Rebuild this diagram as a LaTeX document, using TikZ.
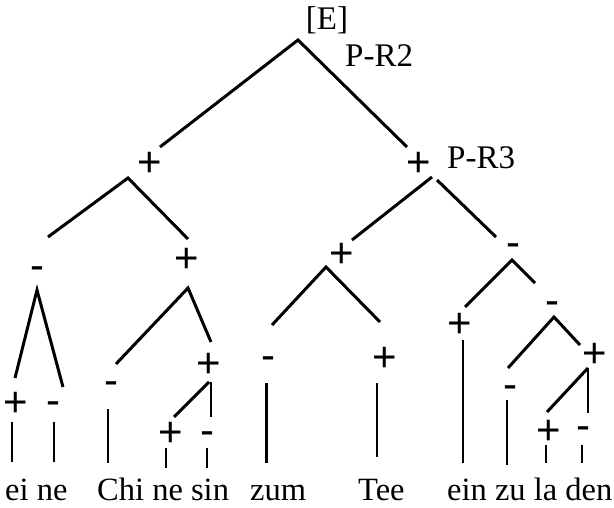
\documentclass[tikz,border=0pt]{standalone}
\usepackage{fontspec}
\setmainfont{Liberation Serif}
\newfontfamily\signfont{Liberation Sans}
\begin{document}
\begin{tikzpicture}[x=1pt,y=-1pt,
  word/.style={font=\fontsize{32.5}{36}\selectfont, anchor=base west, inner sep=0},
  lab/.style={font=\fontsize{33}{36}\selectfont, anchor=base west, inner sep=0},
  pl/.style={font=\signfont\fontsize{42}{44}\selectfont, anchor=base, inner sep=0, yshift=-14.7pt},
  mi/.style={font=\signfont\fontsize{42}{44}\selectfont, anchor=base, inner sep=0, yshift=-11.5pt},
  edge/.style={line width=3pt},
  leg/.style={line width=2.3pt},
  thinleg/.style={line width=1.6pt}]
\useasboundingbox (0,0) rectangle (614,508);

% ---- labels ----
\node[font=\fontsize{33}{36}\selectfont, anchor=base, inner sep=0] (E) at (327,30) {[E]};
\node[lab] (pr2) at (345,67) {P-R2};
\node[lab] (pr3) at (447,169) {P-R3};

% ---- sign nodes ----
\node[pl] (L) at (150,162) {+};
\node[pl] (R) at (419,162) {+};
\node[mi] (LL) at (37,268) {-};
\node[pl] (LR) at (187,258) {+};
\node[pl] (LLa) at (16,402) {+};
\node[mi] (LLb) at (53,403) {-};
\node[mi] (LRa) at (111,383) {-};
\node[pl] (LRb) at (209,363) {+};
\node[pl] (LRba) at (171,432) {+};
\node[mi] (LRbb) at (207,433) {-};
\node[pl] (RL) at (342,253) {+};
\node[mi] (RLa) at (268,358) {-};
\node[pl] (RLb) at (385,357) {+};
\node[mi] (RR) at (513,245) {-};
\node[pl] (RRa) at (460,323) {+};
\node[mi] (RRb) at (552,303) {-};
\node[mi] (RRba) at (510,387) {-};
\node[pl] (RRbb) at (595,353) {+};
\node[pl] (RRbba) at (549,430) {+};
\node[mi] (RRbbb) at (583,428) {-};

% ---- words ----
\node[word] (w1) at (5,500) {ei ne};
\node[word] (w2) at (97,500) {Chi ne sin};
\node[word] (w3) at (250,500) {zum};
\node[word] (w4) at (358,500) {Tee};
\node[word] (w5) at (447,500) {ein zu la den};

% ---- connector ends ----
\coordinate (E-ap) at (298,40);
\coordinate (L-in) at (160,147);
\coordinate (R-in) at (407,147);
\coordinate (L-ap) at (128,178);
\coordinate (LL-in) at (48,237);
\coordinate (LR-in) at (188,239);
\coordinate (R-apl) at (432,177);
\coordinate (R-apr) at (437,180);
\coordinate (RL-in) at (352,240);
\coordinate (RR-in) at (496,237);
\coordinate (LL-ap) at (37,290);
\coordinate (LLa-in) at (15,378);
\coordinate (LLb-in) at (63,387);
\coordinate (LR-ap) at (188,288);
\coordinate (LRa-in) at (116,364);
\coordinate (LRb-in) at (211,342);
\coordinate (LRb-ap) at (209,382);
\coordinate (LRba-in) at (174,417);
\coordinate (LRbb-ap) at (211,382);
\coordinate (LRbb-in) at (211,417);
\coordinate (RL-ap) at (326,267);
\coordinate (RLa-in) at (272,325);
\coordinate (RLb-in) at (380,322);
\coordinate (RR-ap) at (512,260);
\coordinate (RRa-in) at (465,307);
\coordinate (RRb-in) at (535,283);
\coordinate (RRb-ap) at (554,317);
\coordinate (RRba-in) at (508,368);
\coordinate (RRbb-in) at (580,345);
\coordinate (RRbb-ap) at (588,368);
\coordinate (RRbba-in) at (547,412);
\coordinate (RRbbb-in) at (588,413);
% leg ends
\coordinate (LLa-t) at (12,422);  \coordinate (LLa-b) at (12,462);
\coordinate (LLb-t) at (54,422);  \coordinate (LLb-b) at (54,462);
\coordinate (LRa-t) at (108,409); \coordinate (LRa-b) at (108,463);
\coordinate (LRba-t) at (166,448); \coordinate (LRba-b) at (166,468);
\coordinate (LRbb-t) at (207,448); \coordinate (LRbb-b) at (207,468);
\coordinate (RLa-t) at (266,383); \coordinate (RLa-b) at (266,463);
\coordinate (RLb-t) at (377,383); \coordinate (RLb-b) at (377,457);
\coordinate (RRa-t) at (463,340); \coordinate (RRa-b) at (463,463);
\coordinate (RRba-t) at (507,400); \coordinate (RRba-b) at (507,465);
\coordinate (RRbba-t) at (546,445); \coordinate (RRbba-b) at (546,463);
\coordinate (RRbbb-t) at (582,445); \coordinate (RRbbb-b) at (582,463);

% ---- branches ----
\draw[edge] (L-in) -- (E-ap) -- (R-in);
\draw[edge] (LL-in) -- (L-ap) -- (LR-in);
\draw[edge] (R-apl) -- (RL-in);
\draw[edge] (R-apr) -- (RR-in);
\draw[edge] (LLa-in) -- (LL-ap) -- (LLb-in);
\draw[edge] (LRa-in) -- (LR-ap) -- (LRb-in);
\draw[edge] (LRba-in) -- (LRb-ap);
\draw[leg] (LRbb-ap) -- (LRbb-in);
\draw[edge] (RLa-in) -- (RL-ap) -- (RLb-in);
\draw[edge] (RRa-in) -- (RR-ap) -- (RRb-in);
\draw[edge] (RRba-in) -- (RRb-ap) -- (RRbb-in);
\draw[edge] (RRbba-in) -- (RRbb-ap);
\draw[leg] (RRbb-ap) -- (RRbbb-in);

% ---- legs ----
\draw[leg] (LLa-t) -- (LLa-b);
\draw[leg] (LLb-t) -- (LLb-b);
\draw[leg] (LRa-t) -- (LRa-b);
\draw[thinleg] (LRba-t) -- (LRba-b);
\draw[thinleg] (LRbb-t) -- (LRbb-b);
\draw[edge] (RLa-t) -- (RLa-b);
\draw[thinleg] (RLb-t) -- (RLb-b);
\draw[leg] (RRa-t) -- (RRa-b);
\draw[leg] (RRba-t) -- (RRba-b);
\draw[thinleg] (RRbba-t) -- (RRbba-b);
\draw[thinleg] (RRbbb-t) -- (RRbbb-b);
\end{tikzpicture}
\end{document}
